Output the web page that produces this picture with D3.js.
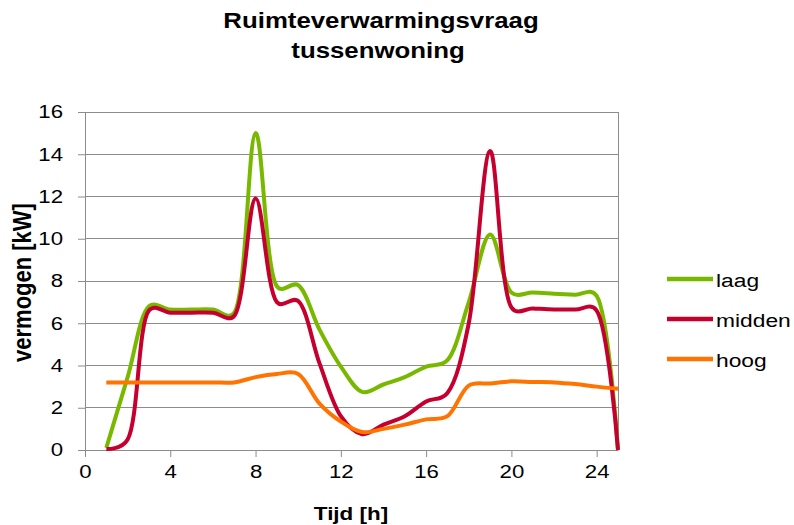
<!DOCTYPE html>
<html>
<head>
<meta charset="utf-8">
<script src="https://cdn.jsdelivr.net/npm/d3@7/dist/d3.min.js"></script>
<style>
body { margin: 0; background: #ffffff; }
svg { display: block; font-family: "Liberation Sans", Arial, sans-serif; }
</style>
</head>
<body>
<div id="chart"></div>
<script>
const hours = [1, 2, 3, 4, 5, 6, 7, 8, 9, 10, 11, 12, 13, 14, 15, 16, 17, 18, 19, 20, 21, 22, 23, 24, 25];
const laag = [0.1, 3.45, 6.8, 6.65, 6.65, 6.65, 6.5, 15.0, 7.75, 7.8, 5.7, 3.95, 2.75, 3.1, 3.45, 3.95, 4.25, 7.0, 10.2, 7.45, 7.45, 7.4, 7.35, 7.3, 0];
const midden = [0.05, 0.5, 6.6, 6.5, 6.5, 6.5, 6.35, 11.9, 7.0, 7.05, 4.1, 1.6, 0.75, 1.2, 1.6, 2.3, 2.7, 6.0, 14.15, 6.75, 6.7, 6.65, 6.65, 6.6, 0];
const hoog = [3.2, 3.2, 3.2, 3.2, 3.2, 3.2, 3.2, 3.45, 3.6, 3.6, 2.2, 1.35, 0.85, 1.0, 1.2, 1.45, 1.6, 3.05, 3.15, 3.25, 3.22, 3.2, 3.12, 3.0, 2.9];
const seriesNames = ["laag", "midden", "hoog"];
const seriesColors = ["#78b900", "#c5002f", "#ff7300"];
const xTicks = [0, 4, 8, 12, 16, 20, 24];
const yTicks = [0, 2, 4, 6, 8, 10, 12, 14, 16];

const width = 794, height = 525;
const stretch = 1.2;
const gridColor = "#8c8c8c";

const svg = d3.select("#chart").append("svg")
    .attr("width", width)
    .attr("height", height);

const x = d3.scaleLinear().domain([0, 25]).range([85, 618]);
const y = d3.scaleLinear().domain([0, 16]).range([450, 112]);

// gridlines
svg.append("g")
    .selectAll("line")
    .data(yTicks)
    .join("line")
    .attr("x1", x(0))
    .attr("x2", x(25))
    .attr("y1", d => y(d))
    .attr("y2", d => y(d))
    .attr("stroke", gridColor)
    .attr("stroke-width", 1)
    .attr("shape-rendering", "crispEdges");

// right border of plot area
svg.append("line")
    .attr("x1", x(25)).attr("x2", x(25))
    .attr("y1", y(16)).attr("y2", y(0))
    .attr("stroke", gridColor)
    .attr("shape-rendering", "crispEdges");

const xAxis = svg.append("g")
    .attr("transform", `translate(0,${y(0)})`)
    .call(d3.axisBottom(x).tickValues(xTicks).tickSize(7).tickSizeOuter(0));
xAxis.select(".domain").attr("stroke", gridColor);
xAxis.selectAll(".tick line").attr("stroke", gridColor);
xAxis.selectAll(".tick text")
    .attr("y", 28)
    .attr("dy", 0)
    .attr("fill", "#000")
    .attr("font-size", 18.5)
    .attr("font-family", "Liberation Sans, Arial, sans-serif")
    .attr("transform", `scale(${stretch},1)`);

const yAxis = svg.append("g")
    .attr("transform", `translate(${x(0)},0)`)
    .call(d3.axisLeft(y).tickValues(yTicks).tickSize(7).tickSizeOuter(0));
yAxis.select(".domain").attr("stroke", gridColor);
yAxis.selectAll(".tick line").attr("stroke", gridColor);
yAxis.selectAll(".tick text")
    .attr("x", -22 / stretch)
    .attr("fill", "#000")
    .attr("font-size", 18.5)
    .attr("font-family", "Liberation Sans, Arial, sans-serif")
    .attr("transform", `scale(${stretch},1)`);

// series, smoothed like the spreadsheet original
const series = [laag, midden, hoog];
const line = d3.line()
    .x((d, i) => x(hours[i]))
    .y(d => y(d))
    .curve(d3.curveCatmullRom.alpha(0.35));

svg.append("g")
    .selectAll("path")
    .data(series)
    .join("path")
    .attr("d", d => line(d))
    .attr("fill", "none")
    .attr("stroke", (d, i) => seriesColors[i])
    .attr("stroke-width", 4)
    .attr("stroke-linejoin", "round");

// title
const title = svg.append("g").attr("font-weight", "bold").attr("font-size", 21.5).attr("text-anchor", "middle");
title.append("text")
    .attr("transform", `translate(381,28) scale(${stretch},1)`)
    .text("Ruimteverwarmingsvraag");
title.append("text")
    .attr("transform", `translate(378,58) scale(${stretch},1)`)
    .text("tussenwoning");

// axis titles
svg.append("text")
    .attr("transform", `translate(351,520) scale(${stretch},1)`)
    .attr("text-anchor", "middle")
    .attr("font-weight", "bold")
    .attr("font-size", 18.7)
    .text("Tijd [h]");

svg.append("text")
    .attr("transform", `translate(31,282.5) scale(${stretch},1) rotate(-90)`)
    .attr("text-anchor", "middle")
    .attr("font-weight", "bold")
    .attr("font-size", 22)
    .text("vermogen [kW]");

// legend
const legend = svg.append("g")
    .selectAll("g")
    .data(seriesNames)
    .join("g")
    .attr("transform", (d, i) => `translate(667,${279 + i * 40})`);
legend.append("line")
    .attr("x1", 0).attr("x2", 46)
    .attr("stroke", (d, i) => seriesColors[i])
    .attr("stroke-width", 4.5);
legend.append("text")
    .attr("transform", `translate(49,8) scale(${stretch},1)`)
    .attr("font-size", 19)
    .text(d => d);
</script>
</body>
</html>
